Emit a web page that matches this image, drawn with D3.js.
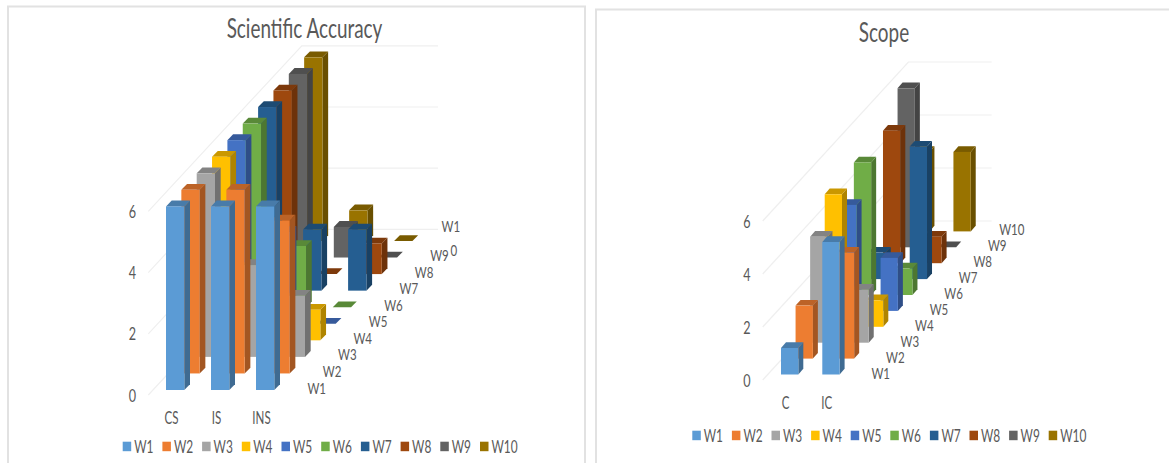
<!DOCTYPE html>
<html><head><meta charset="utf-8">
<script src="https://cdn.jsdelivr.net/npm/d3@7"></script>
<style>html,body{margin:0;background:#fff}svg{display:block}text{font-family:Lato,"Open Sans",sans-serif;fill:#595959}</style>
</head><body><svg id="c" width="1169" height="463"></svg>
<script>
const seriesNames = ["W1","W2","W3","W4","W5","W6","W7","W8","W9","W10"];
const seriesColors = ["#5B9BD5","#ED7D31","#A5A5A5","#FFC000","#4472C4","#70AD47","#255E91","#9E480E","#636363","#997300"];
const valueTicks = [0,2,4,6];

const accuracyCategories = ["CS","IS","INS"];
const accuracyCS  = [6,6,6,6,6,6,6,6,6,6];
const accuracyIS  = [6,6,3,3,3,2,2,0,1,1];
const accuracyINS = [6,5,2,1,0,0,2,1,0,0];

const scopeCategories = ["C","IC"];
const scopeC  = [1,2,4,5,4,5,1,5,6,3];
const scopeIC = [5,4,2,1,2,1,5,1,0,3];

const svg = d3.select("#c");

function condensed(sel, k){
  sel.each(function(){
    const w = this.getComputedTextLength();
    d3.select(this).attr("textLength", w*k).attr("lengthAdjust","spacingAndGlyphs");
  });
}

function drawPanel(cfg){
  const g = svg.append("g");
  const h = cfg.unit*6;
  const value = d3.scaleLinear().domain([0,6]).range([0,h]);
  const catX = d3.scaleLinear().domain([0,1]).range([0,cfg.catStep]);
  const depthX = d3.scaleLinear().domain([0,10]).range([0,cfg.wallDx]);
  const depthY = d3.scaleLinear().domain([0,10]).range([0,cfg.wallDy]);

  g.append("path").attr("d",cfg.border).attr("fill","none").attr("stroke","#e2e2e2").attr("stroke-width",2);

  g.append("text").attr("x",cfg.titleX).attr("y",cfg.titleY).attr("text-anchor","middle")
    .attr("dominant-baseline","central").attr("font-size",27).text(cfg.title).call(condensed,cfg.titleK);

  const grid = g.append("g").attr("stroke","#efefef").attr("stroke-width",1.2).attr("fill","none");
  valueTicks.forEach(t=>{
    const y0 = cfg.wallY - value(t);
    grid.append("polyline").attr("points",[
      [cfg.wallX,y0],[cfg.wallX+cfg.wallDx,y0-cfg.wallDy],[cfg.wallRight,y0-cfg.wallDy]
    ].join(" "));
  });

  const bars = g.append("g");
  d3.range(seriesNames.length-1,-1,-1).forEach(s=>{
    cfg.rows.forEach((row,c)=>{
      const v = row[s];
      const x = cfg.barX + catX(c) + depthX(s);
      const b = cfg.barY - depthY(s);
      const t = b - value(v);
      const r = x + cfg.barW;
      const dx = cfg.barDx, dy = cfg.barDy;
      const col = d3.color(seriesColors[s]);
      const bar = bars.append("g");
      bar.append("polygon").attr("fill",col.darker(1.05).formatHex())
        .attr("points",[[r,b],[r+dx,b-dy],[r+dx,t-dy],[r,t]].join(" "));
      bar.append("polygon").attr("fill",col.darker(0.65).formatHex())
        .attr("points",[[x,t],[r,t],[r+dx,t-dy],[x+dx,t-dy]].join(" "));
      bar.append("rect").attr("x",x).attr("y",t).attr("width",cfg.barW).attr("height",Math.max(b-t,0))
        .attr("fill",seriesColors[s]);
    });
  });

  const yAxis = d3.axisLeft(d3.scaleLinear().domain([0,6]).range([cfg.wallY,cfg.wallY-h]))
    .tickValues(valueTicks).tickSize(0).tickPadding(0).tickFormat(d3.format("d"));
  const ya = g.append("g").attr("transform",`translate(${cfg.tickX},0)`).call(yAxis);
  ya.select(".domain").remove();
  ya.selectAll("text").attr("font-size",cfg.fs).attr("font-family","Lato").attr("text-anchor","middle").attr("x",0).attr("dy","0.35em").call(condensed,.72);

  const catAxis = d3.axisBottom(d3.scalePoint().domain(cfg.cats).range([cfg.catLabelX,cfg.catLabelX+cfg.catStep*(cfg.cats.length-1)]))
    .tickSize(0).tickPadding(0);
  const ca = g.append("g").attr("transform",`translate(0,${cfg.catLabelY})`).call(catAxis);
  ca.select(".domain").remove();
  ca.selectAll("text").attr("font-size",cfg.fs).attr("font-family","Lato").attr("y",0).attr("dy","0.35em").call(condensed,.66);

  const sl = g.append("g");
  cfg.seriesLabels.forEach((lab,s)=>{
    const parts = Array.isArray(lab) ? lab : [lab];
    parts.forEach((p,i)=>{
      sl.append("text")
        .attr("x",cfg.labelX+depthX(s)+(parts.length>1?(i?-1:-4):0))
        .attr("y",cfg.labelY-depthY(s)+(parts.length>1?(i?12:-12):0))
        .attr("text-anchor","middle").attr("dominant-baseline","central").attr("font-size",16).text(p).call(condensed,.72);
    });
  });

  const leg = g.append("g");
  const legX = d3.scaleLinear().domain([0,9]).range([cfg.legX,cfg.legX+cfg.legStep*9]);
  seriesNames.forEach((n,i)=>{
    leg.append("rect").attr("x",legX(i)).attr("y",cfg.legY-5).attr("width",8.5).attr("height",9.5).attr("fill",seriesColors[i]);
    leg.append("text").attr("x",legX(i)+11.5).attr("y",cfg.legY).attr("dominant-baseline","central").attr("font-size",cfg.fs).text(n).call(condensed,.68);
  });
}

drawPanel({
  title:"Scientific Accuracy", titleX:304.5, titleY:27, titleK:.7,
  cats:accuracyCategories, rows:[accuracyCS,accuracyIS,accuracyINS],
  border:"M8,463V6.5H585V463",
  unit:30.6, wallX:148.3, wallY:395, wallDx:153.5, wallDy:165.6, wallRight:438,
  barX:166, barY:390, barW:18.3, barDx:5.7, barDy:5.8, catStep:45,
  tickX:132.5, catLabelX:171, catLabelY:418, fs:17.5,
  seriesLabels:["W1","W2","W3","W4","W5","W6","W7","W8","W9",["W1","0"]],
  labelX:316.7, labelY:387,
  legX:122.7, legY:446.7, legStep:39.7
});
drawPanel({
  title:"Scope", titleX:884, titleY:31, titleK:.7,
  cats:scopeCategories, rows:[scopeC,scopeIC],
  border:"M1169,9.5H596V463",
  unit:26.5, wallX:762.7, wallY:380, wallDx:145.7, wallDy:159, wallRight:991.7,
  barX:781, barY:374.5, barW:17.3, barDx:5, barDy:5.7, catStep:41.3,
  tickX:747, catLabelX:785, catLabelY:403, fs:17.5,
  seriesLabels:["W1","W2","W3","W4","W5","W6","W7","W8","W9","W10"],
  labelX:880.7, labelY:372,
  legX:692.3, legY:435.7, legStep:39.6
});
</script></body></html>
